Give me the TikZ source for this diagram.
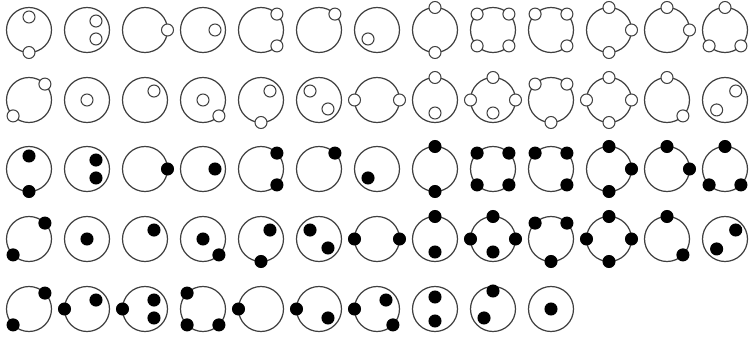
\documentclass[tikz,border=0pt]{standalone}
\usepackage{tikz}

% one glyph: centre x, centre y, dot style, list of angle/radius
\newcommand{\glyph}[4]{%
  \draw[ring] (#1,#2) circle (22.5);
  \foreach \a/\r in {#4}
    \draw[#3] ([shift={(\a:\r)}]#1,#2) circle (6);
}

\begin{document}
\begin{tikzpicture}[x=0.2mm, y=0.2mm,
  ring/.style={draw=black!75, line width=0.7pt},
  whitedot/.style={draw=black!75, line width=0.6pt, fill=white},
  blackdot/.style={draw=black, line width=0.6pt, fill=black}]

\useasboundingbox (0,0) rectangle (750,-337);

% row 1: white
\glyph{29}{-30}{whitedot}{90/13, 270/22.5}
\glyph{87}{-30}{whitedot}{45/12.7, -45/12.7}
\glyph{145}{-30}{whitedot}{0/22.5}
\glyph{203}{-30}{whitedot}{0/12}
\glyph{261}{-30}{whitedot}{45/22.5, -45/22.5}
\glyph{319}{-30}{whitedot}{45/22.5}
\glyph{377}{-30}{whitedot}{225/12.7}
\glyph{435}{-30}{whitedot}{90/22.5, 270/22.5}
\glyph{493}{-30}{whitedot}{45/22.5, 135/22.5, 225/22.5, 315/22.5}
\glyph{551}{-30}{whitedot}{45/22.5, 135/22.5, 315/22.5}
\glyph{609}{-30}{whitedot}{0/22.5, 90/22.5, 270/22.5}
\glyph{667}{-30}{whitedot}{0/22.5, 90/22.5}
\glyph{725}{-30}{whitedot}{90/22.5, 225/22.5, 315/22.5}

% row 2: white
\glyph{29}{-100}{whitedot}{45/22.5, 225/22.5}
\glyph{87}{-100}{whitedot}{0/0}
\glyph{145}{-100}{whitedot}{45/12.7}
\glyph{203}{-100}{whitedot}{0/0, 315/22.5}
\glyph{261}{-100}{whitedot}{45/12.7, 270/22.5}
\glyph{319}{-100}{whitedot}{135/12.7, 315/12.7}
\glyph{377}{-100}{whitedot}{0/22.5, 180/22.5}
\glyph{435}{-100}{whitedot}{90/22.5, 270/13}
\glyph{493}{-100}{whitedot}{0/22.5, 90/22.5, 180/22.5, 270/13}
\glyph{551}{-100}{whitedot}{45/22.5, 135/22.5, 270/22.5}
\glyph{609}{-100}{whitedot}{0/22.5, 90/22.5, 180/22.5, 270/22.5}
\glyph{667}{-100}{whitedot}{90/22.5, 315/22.5}
\glyph{725}{-100}{whitedot}{40/14, 230/13}

% row 3: black
\glyph{29}{-169}{blackdot}{90/13, 270/22.5}
\glyph{87}{-169}{blackdot}{45/12.7, -45/12.7}
\glyph{145}{-169}{blackdot}{0/22.5}
\glyph{203}{-169}{blackdot}{0/12}
\glyph{261}{-169}{blackdot}{45/22.5, -45/22.5}
\glyph{319}{-169}{blackdot}{45/22.5}
\glyph{377}{-169}{blackdot}{225/12.7}
\glyph{435}{-169}{blackdot}{90/22.5, 270/22.5}
\glyph{493}{-169}{blackdot}{45/22.5, 135/22.5, 225/22.5, 315/22.5}
\glyph{551}{-169}{blackdot}{45/22.5, 135/22.5, 315/22.5}
\glyph{609}{-169}{blackdot}{0/22.5, 90/22.5, 270/22.5}
\glyph{667}{-169}{blackdot}{0/22.5, 90/22.5}
\glyph{725}{-169}{blackdot}{90/22.5, 225/22.5, 315/22.5}

% row 4: black
\glyph{29}{-239}{blackdot}{45/22.5, 225/22.5}
\glyph{87}{-239}{blackdot}{0/0}
\glyph{145}{-239}{blackdot}{45/12.7}
\glyph{203}{-239}{blackdot}{0/0, 315/22.5}
\glyph{261}{-239}{blackdot}{45/12.7, 270/22.5}
\glyph{319}{-239}{blackdot}{135/12.7, 315/12.7}
\glyph{377}{-239}{blackdot}{0/22.5, 180/22.5}
\glyph{435}{-239}{blackdot}{90/22.5, 270/13}
\glyph{493}{-239}{blackdot}{0/22.5, 90/22.5, 180/22.5, 270/13}
\glyph{551}{-239}{blackdot}{45/22.5, 135/22.5, 270/22.5}
\glyph{609}{-239}{blackdot}{0/22.5, 90/22.5, 180/22.5, 270/22.5}
\glyph{667}{-239}{blackdot}{90/22.5, 315/22.5}
\glyph{725}{-239}{blackdot}{40/14, 230/13}

% row 5: black
\glyph{29}{-309}{blackdot}{45/22.5, 225/22.5}
\glyph{87}{-309}{blackdot}{180/22.5, 45/12.7}
\glyph{145}{-309}{blackdot}{180/22.5, 45/12.7, -45/12.7}
\glyph{203}{-309}{blackdot}{135/22.5, 225/22.5, 315/22.5}
\glyph{261}{-309}{blackdot}{180/22.5}
\glyph{319}{-309}{blackdot}{180/22.5, 315/12.7}
\glyph{377}{-309}{blackdot}{180/22.5, 45/12.7, 315/22.5}
\glyph{435}{-309}{blackdot}{90/12, 270/12}
\glyph{493}{-309}{blackdot}{90/18, 225/12.7}
\glyph{551}{-309}{blackdot}{0/0}

\end{tikzpicture}
\end{document}
